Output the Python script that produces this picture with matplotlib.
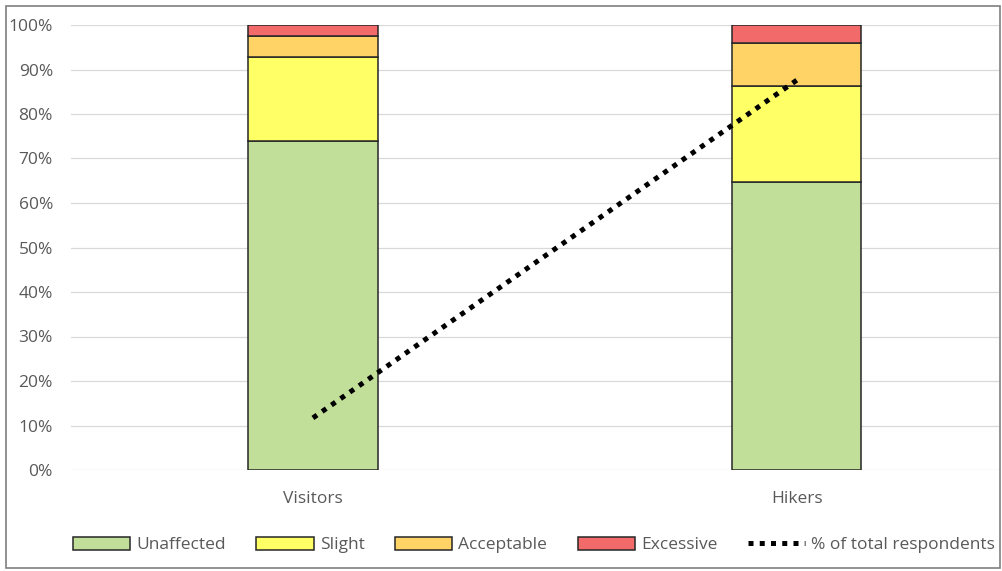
import numpy as np
import matplotlib.pyplot as plt
from matplotlib.patches import Rectangle

plt.rcParams['font.family'] = ['Open Sans', 'DejaVu Sans']

groups = ['Visitors', 'Hikers']
unaffected = [0.740, 0.647]
slight = [0.187, 0.216]
acceptable = [0.049, 0.096]
excessive = [0.024, 0.041]
share_total = [0.117, 0.876]   # % of total respondents

series = [('Unaffected', unaffected, '#C2DF9A'),
          ('Slight', slight, '#FFFF66'),
          ('Acceptable', acceptable, '#FFD366'),
          ('Excessive', excessive, '#F26A6A')]

fig = plt.figure(figsize=(10.02, 5.71), dpi=100)
ax = fig.add_axes([71 / 1002, 101 / 571, 928 / 1002, 445 / 571])

x = np.arange(len(groups))
bottom = np.zeros(len(groups))
handles = []
for name, vals, col in series:
    b = ax.bar(x, vals, bottom=bottom, width=0.267, color=col,
               edgecolor='#262626', linewidth=1.1, label=name, zorder=3)
    handles.append(b)
    bottom += np.array(vals)

line, = ax.plot(x, share_total, color='black', linewidth=3.6,
                linestyle=(0, (1, 1.25)), label='% of total respondents', zorder=4)
handles.append(line)

ax.set_xlim(-0.5, 1.418)
ax.set_ylim(0, 1)
ticks = np.arange(0, 1.01, 0.1)
ax.set_yticks(ticks)
ax.set_yticklabels([f'{int(round(v * 100))}%' for v in ticks])
ax.set_xticks(x)
ax.set_xticklabels(groups)
ax.tick_params(axis='both', length=0, colors='#595959', labelsize=12.5)
ax.tick_params(axis='y', pad=13)
ax.tick_params(axis='x', pad=15)
ax.grid(axis='y', color='#D9D9D9', linewidth=0.9, zorder=0)
for s in ax.spines.values():
    s.set_visible(False)

labels = [h.get_label() for h in handles]
fig.legend(handles, labels, loc='center', bbox_to_anchor=(0.533, 0.0455),
           ncol=5, frameon=False, fontsize=12.5, handlelength=3.3,
           handleheight=0.8, handletextpad=0.35, columnspacing=1.75,
           labelcolor='#595959')

# outer chart border
fig.patches.append(Rectangle((6 / 1002, 3 / 571), 994 / 1002, 562 / 571,
                             transform=fig.transFigure, fill=False,
                             edgecolor='#7F7F7F', linewidth=1.2))

fig.savefig('out.png', dpi=100)
